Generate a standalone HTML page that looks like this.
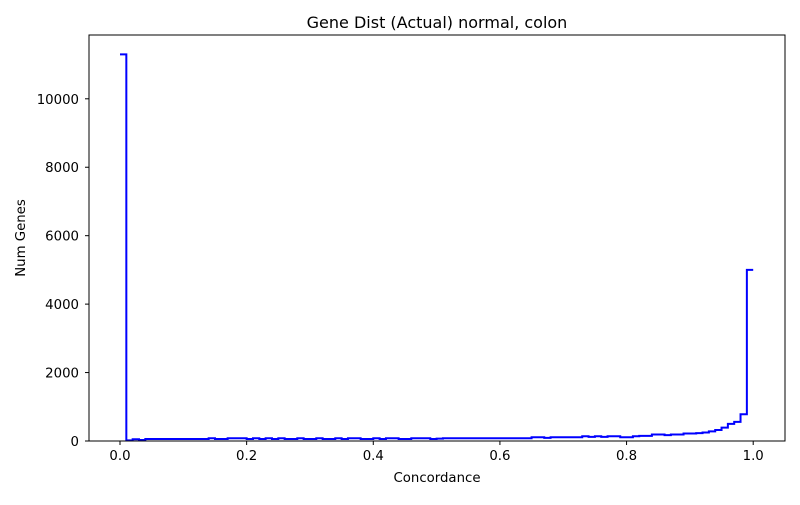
<!DOCTYPE html>
<html><head><meta charset="utf-8"><style>
body{margin:0;background:#fff;font-family:"Liberation Sans",sans-serif}
svg text{font-family:"DejaVu Sans","Liberation Sans",sans-serif;font-size:13.3px;fill:#000}
</style></head><body>
<svg id="chart" width="800" height="500">
<rect width="800" height="500" fill="#fff"/>
<g id="g"></g>
</svg>
<script>
const binStarts = [0,0.01,0.02,0.03,0.04,0.05,0.06,0.07,0.08,0.09,0.10,0.11,0.12,0.13,0.14,0.15,0.16,0.17,0.18,0.19,0.20,0.21,0.22,0.23,0.24,0.25,0.26,0.27,0.28,0.29,0.30,0.31,0.32,0.33,0.34,0.35,0.36,0.37,0.38,0.39,0.40,0.41,0.42,0.43,0.44,0.45,0.46,0.47,0.48,0.49,0.50,0.51,0.52,0.53,0.54,0.55,0.56,0.57,0.58,0.59,0.60,0.61,0.62,0.63,0.64,0.65,0.66,0.67,0.68,0.69,0.70,0.71,0.72,0.73,0.74,0.75,0.76,0.77,0.78,0.79,0.80,0.81,0.82,0.83,0.84,0.85,0.86,0.87,0.88,0.89,0.90,0.91,0.92,0.93,0.94,0.95,0.96,0.97,0.98,0.99];
const counts = [11300,20,50,30,60,60,60,60,60,60,60,60,60,60,80,60,60,80,80,80,60,80,60,80,60,80,60,60,80,60,60,80,60,60,80,60,80,80,60,60,80,60,80,80,60,60,80,80,80,60,70,80,80,80,80,80,80,80,80,80,80,80,80,80,80,110,110,90,110,110,110,110,110,140,120,140,120,140,140,110,110,140,150,150,190,190,170,190,190,220,220,230,250,280,320,390,500,560,780,5000];
const xTicks = [0,0.2,0.4,0.6,0.8,1.0];
const xTickLabels = ["0.0","0.2","0.4","0.6","0.8","1.0"];
const yTicks = [0,2000,4000,6000,8000,10000];
const binWidth = 0.01;
const L=89,R=785,T=35,B=441;
const X=v=>120+v*633.2;
const Y=v=>441-v*0.03422;
const g=document.getElementById('g');
const NS='http://www.w3.org/2000/svg';
function mk(t,a){const e=document.createElementNS(NS,t);for(const k in a)e.setAttribute(k,a[k]);g.appendChild(e);return e;}
let d='';
for(let i=0;i<counts.length;i++){d+=(i?' L':'M')+X(binStarts[i])+','+Y(counts[i])+' L'+X(binStarts[i]+binWidth)+','+Y(counts[i]);}
const p=mk('path',{d:d,fill:'none',stroke:'#0000ff','stroke-width':2,'stroke-linejoin':'miter'});


const fr=mk('rect',{x:L,y:T,width:R-L,height:B-T,fill:'none',stroke:'#000','stroke-width':1});


xTicks.forEach((v,i)=>{
 mk('line',{x1:X(v),x2:X(v),y1:B,y2:B+4,stroke:'#000'});
 const t=mk('text',{x:X(v),y:B+19,'text-anchor':'middle'});t.textContent=xTickLabels[i];
 
 
});
yTicks.forEach(v=>{
 mk('line',{x1:L-4,x2:L,y1:Y(v),y2:Y(v),stroke:'#000'});
 const t=mk('text',{x:L-10,y:Y(v)+5,'text-anchor':'end'});t.textContent=String(v);
 
 
});
const xt=mk('text',{x:437,y:482,'text-anchor':'middle'});xt.textContent='Concordance';


const yt=mk('text',{x:25,y:238,'text-anchor':'middle',transform:'rotate(-90 25 238)'});yt.textContent='Num Genes';


const tt=mk('text',{x:437,y:28,'text-anchor':'middle',style:'font-size:16px'});tt.textContent='Gene Dist (Actual) normal, colon';


</script>
</body></html>
